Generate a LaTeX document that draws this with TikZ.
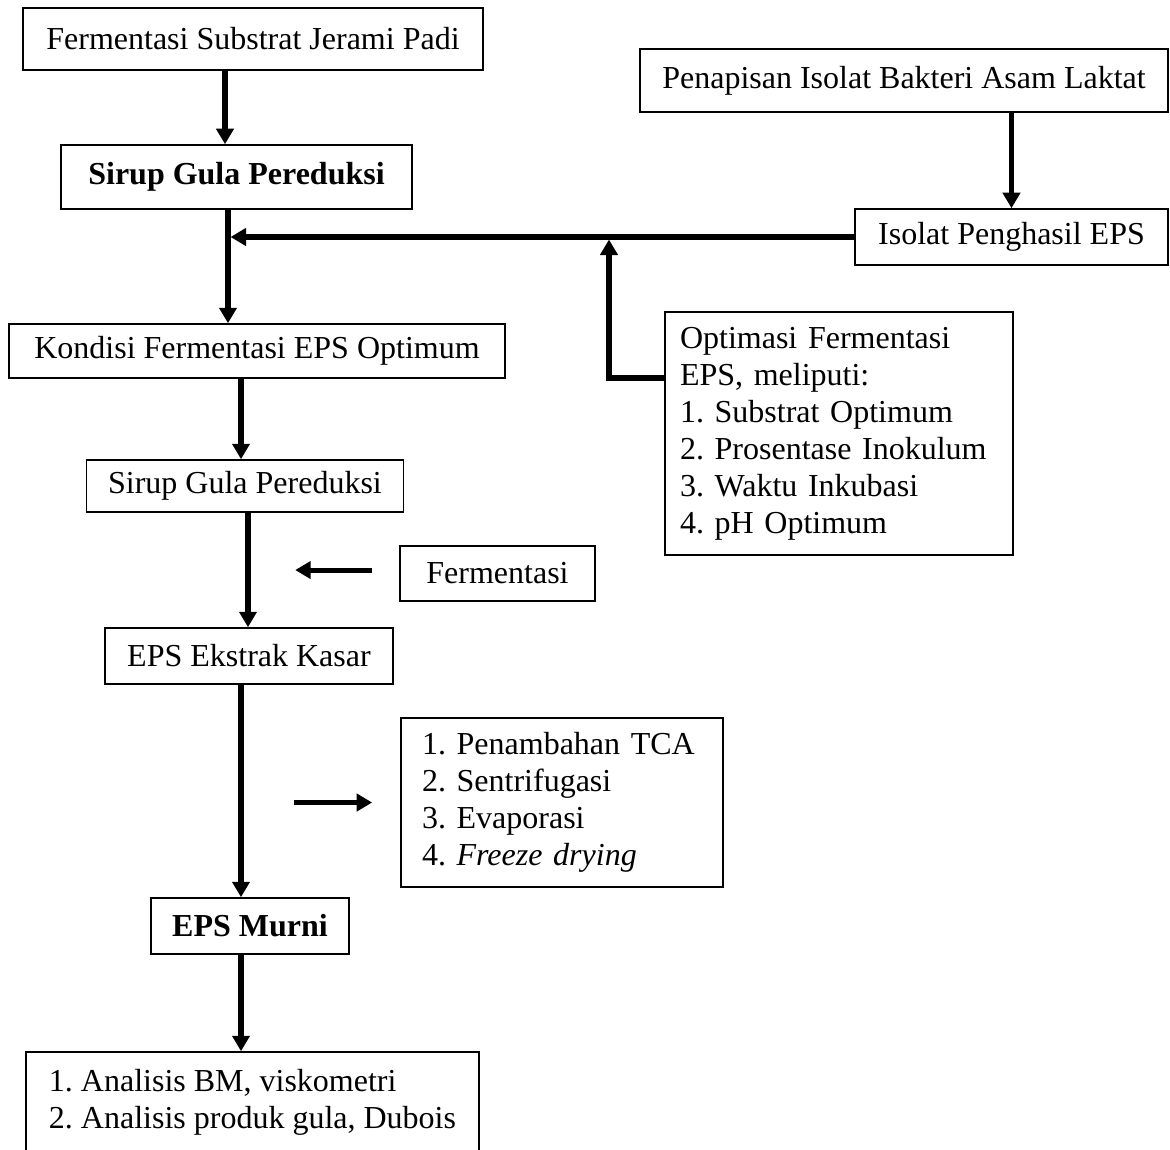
\documentclass[tikz,border=0pt]{standalone}
\usepackage{fontspec}
\setmainfont{Liberation Serif}
\usetikzlibrary{arrows.meta,positioning}
\tikzset{
  >={Triangle[length=5.8pt,width=6.4pt]},
  box/.style={draw,line width=0.6pt,inner sep=0pt,align=center,
    font=\fontsize{12pt}{13.9pt}\selectfont\frenchspacing},
  list/.style={box,align=left,inner xsep=#1,inner ysep=0pt},
  list/.default=6pt,
  flow/.style={->,line width=1.9pt},
}

\begin{document}
\begin{tikzpicture}[x=0.375pt,y=-0.375pt]
  \useasboundingbox (0,0) rectangle (1170,1149);
  \clip (0,0) rectangle (1170,1149);
  % single line boxes
  \foreach \n/\x/\y/\w/\h/\t in {
    jerami/253/39/172.5/23.25/Fermentasi Substrat Jerami Padi,
    sirup/236.5/177/131.6/24/\textbf{Sirup Gula Pereduksi},
    penapisan/904/80.5/198/23.6/Penapisan Isolat Bakteri Asam Laktat,
    isolat/1011.5/237/117.4/21/Isolat Penghasil EPS,
    kondisi/257/351/186/20.25/Kondisi Fermentasi EPS Optimum,
    sirupb/245/486/118.9/19.5/Sirup Gula Pereduksi,
    ferm/497.5/573.5/73.1/20.6/Fermentasi,
    kasar/249/656/108/21/EPS Ekstrak Kasar,
    murni/250/926/74.25/21/\textbf{EPS Murni}}
    \node[box,minimum width=\w pt,minimum height=\h pt] (\n) at (\x,\y) {\t};
  % boxes with lists
  \node[list=5.6pt,text width=119.25pt,minimum height=91.1pt] (optim) at (839,433.5)
    {Optimasi Fermentasi\\EPS, meliputi:\\1. Substrat Optimum\\2. Prosentase Inokulum\\3. Waktu Inkubasi\\4. pH Optimum};
  \node[list=7.9pt,text width=105pt,minimum height=63.4pt] (steps) at (562,802.5)
    {1. Penambahan TCA\\2. Sentrifugasi\\3. Evaporasi\\4. \textit{Freeze drying}};
  \node[list,minimum width=169.9pt,minimum height=37.5pt] (analisis) at (252.5,1102)
    {1. Analisis BM, viskometri\\2. Analisis produk gula, Dubois};
  % trunk columns
  \coordinate (c1) at (225,0);
  \coordinate (c2) at (228,0);
  \coordinate (c3) at (241,0);
  \coordinate (c4) at (248,0);
  \coordinate (bend) at (609,378);
  \draw[flow] (jerami.south -| c1) -- (sirup.north -| c1);
  \draw[flow] (sirup.south -| c2) -- (kondisi.north -| c2);
  \draw[flow] (penapisan.south -| isolat.north) -- (isolat.north);
  \draw[flow,shorten >=0.95pt] (isolat.west) -- (isolat.west -| c2);
  \draw[flow,shorten >=0.95pt] (optim.west |- bend) -- (bend) -- (bend |- isolat.west);
  \draw[flow] (kondisi.south -| c3) -- (sirupb.north -| c3);
  \draw[flow] (sirupb.south -| c4) -- (kasar.north -| c4);
  \draw[flow] ([xshift=-10.1pt,yshift=1.3pt]ferm.west) -- ([xshift=-39pt,yshift=1.3pt]ferm.west);
  \draw[flow] (kasar.south -| c3) -- (murni.north -| c3);
  \draw[flow] ([xshift=-39.75pt]steps.west) -- ([xshift=-10.5pt]steps.west);
  \draw[flow] (murni.south -| c3) -- (analisis.north -| c3);
\end{tikzpicture}
\end{document}
